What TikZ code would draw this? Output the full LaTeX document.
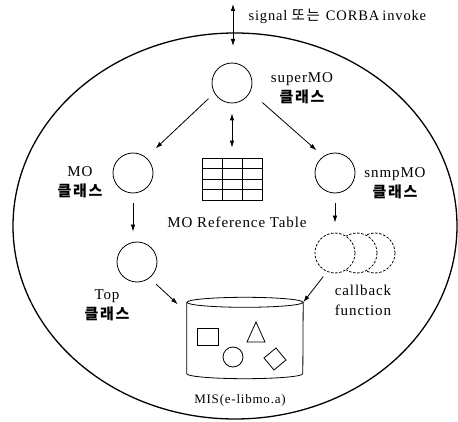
\documentclass[tikz,border=0pt]{standalone}
\usepackage{fontspec}
\setmainfont{Liberation Serif}[LetterSpace=6]
\newfontfamily\kr{Noto Sans CJK KR}[LetterSpace=12]
\usetikzlibrary{arrows.meta,positioning}

\begin{document}
\begin{tikzpicture}[x=1pt,y=-1pt,
     >={Latex[length=7pt,width=4.5pt]},
     cls/.style={draw,circle,thick,minimum size=40pt,inner sep=0pt},
     cb/.style={draw,circle,thick,dash pattern=on 2.5pt off 1.6pt,fill=white,minimum size=40pt,inner sep=0pt},
     lbl/.style={align=center,font=\fontsize{15}{20}\selectfont},
     edg/.style={thick,->}]
    \useasboundingbox (0,0) rectangle (458,422);
    \draw[line width=1.3pt] (235,226) ellipse [x radius=222pt, y radius=193pt];
    % classes
    \node[cls] (super) at (232,83)  {};
    \node[cls] (mo)    at (133,173) {};
    \node[cls] (snmp)  at (335,173) {};
    \node[cls] (top)   at (137,262) {};
    \node[lbl] (superL) at (302,88)  {superMO\\{\kr\bfseries 클래스}};
    \node[lbl] (moL)    at (80,182)  {MO\\{\kr\bfseries 클래스}};
    \node[lbl] (snmpL)  at (395,183) {snmpMO\\{\kr\bfseries 클래스}};
    \node[lbl] (topL)   at (107,305) {Top\\{\kr\bfseries 클래스}};
    % callback functions, back to front
    \node[cb] (cb3) at (375,253) {};
    \node[cb] (cb2) at (357,253) {};
    \node[cb] (cb1) at (335,253) {};
    \node[lbl] (cbL) at (363,300) {callback\\function};
    % reference table
    \node[draw,thick,minimum width=60pt,minimum height=42pt,inner sep=0pt] (tbl) at (232,179) {};
    \foreach \xx in {222,242} \draw[thick] (\xx,158) -- (\xx,200);
    \foreach \yy in {168.5,179,189.5} \draw[thick] (202,\yy) -- (262,\yy);
    \node[lbl] (tblL) at (237,222) {MO Reference Table};
    % MIS store
    \node[minimum width=116pt,minimum height=71pt,inner sep=0pt] (mis) at (245,338) {};
    \draw[thick] (mis.north west) -- (mis.south west)
        arc[start angle=180,end angle=360,x radius=58pt,y radius=5pt] -- (mis.north east);
    \draw[thick] (mis.north) ellipse [x radius=58pt, y radius=5pt];
    \draw[thick] (197,328) rectangle (218,345);
    \draw[thick] (256,322) -- (247,342) -- (265,342) -- cycle;
    \draw[thick] (233,357) circle [radius=10pt];
    \draw[thick] (276,348) -- (286,360) -- (274,370) -- (264,358) -- cycle;
    \node[font=\fontsize{13}{16}\selectfont] (misL) at (240,400) {MIS(e-libmo.a)};
    % signal
    \coordinate (sigtop) at (233,4);
    \coordinate (sigbot) at (233,46);
    \node[anchor=west,font=\fontsize{14.5}{16}\selectfont] (sig) at (245,16) {signal\hspace{4pt}{\kr 또는}\hspace{6pt}CORBA\hspace{3pt}invoke};
    \draw[edg,<->] (sigtop) -- (sigbot);
    % arrows
    \draw[edg,shorten <=8pt,shorten >=13pt] (super.210) -- (mo.50);
    \draw[edg,shorten <=16pt,shorten >=9pt] (super.-26) -- (snmp.125);
    \draw[edg,<->,shorten <=10pt,shorten >=10pt] (super) -- (tbl);
    \draw[edg,shorten <=10pt,shorten >=10pt] (mo.south) -- (mo.south |- top.north);
    \draw[edg,shorten <=10pt,shorten >=10pt] (snmp) -- (cb1);
    \draw[edg,shorten <=9pt] (top.-52) -- ([xshift=-9pt,yshift=-2pt]mis.north west);
    \draw[edg,shorten <=6pt] (cb1.-113) -- (mis.north east);
\end{tikzpicture}
\end{document}
